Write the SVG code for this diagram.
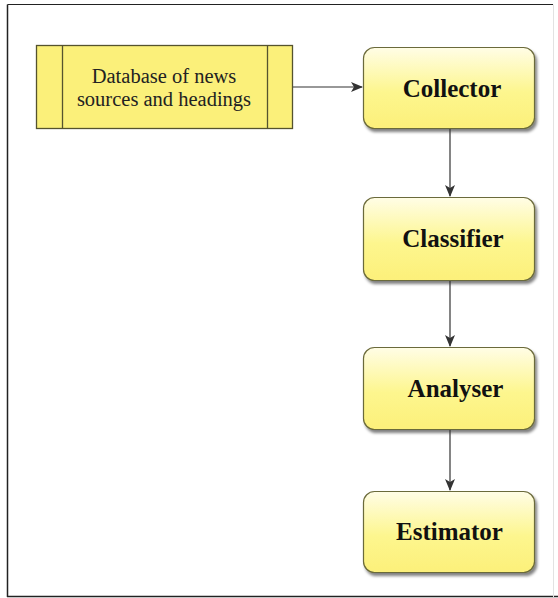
<svg xmlns="http://www.w3.org/2000/svg" width="558" height="598" viewBox="0 0 558 598">
<defs>
<linearGradient id="g" x1="0" y1="0" x2="0" y2="1">
<stop offset="0" stop-color="#fffde6"/>
<stop offset="0.55" stop-color="#fdf68e"/>
<stop offset="1" stop-color="#fcf07a"/>
</linearGradient>
<filter id="sh" x="-10%" y="-10%" width="125%" height="130%">
<feGaussianBlur in="SourceAlpha" stdDeviation="1.5"/>
<feOffset dx="2" dy="3" result="b"/>
<feComponentTransfer><feFuncA type="linear" slope="0.5"/></feComponentTransfer>
<feMerge><feMergeNode/><feMergeNode in="SourceGraphic"/></feMerge>
</filter>
<marker id="ah" markerWidth="12" markerHeight="10" refX="11" refY="5" orient="auto" markerUnits="userSpaceOnUse">
<path d="M0,0 L12,5 L0,10 L3,5 Z" fill="#333"/>
</marker>
</defs>
<style>
.node{fill:url(#g);stroke:#6b6a3a;stroke-width:1.2;filter:url(#sh)}
.lbl{font-family:"Liberation Serif","Times New Roman",serif;font-weight:bold;font-size:25px;fill:#111;text-anchor:middle}
.db{font-family:"Liberation Serif","Times New Roman",serif;font-size:20.5px;fill:#222;text-anchor:middle}
.edge{stroke:#333;stroke-width:1.2;fill:none;marker-end:url(#ah)}
</style>
<rect width="558" height="598" fill="#fff"/>
<g id="frame" fill="none">
<line x1="7.5" y1="4.5" x2="553" y2="4.5" stroke="#222" stroke-width="1.2"/>
<line x1="7.5" y1="4.5" x2="7.5" y2="597" stroke="#222" stroke-width="1.5"/>
<line x1="7" y1="596.5" x2="558" y2="596.5" stroke="#222" stroke-width="1.5"/>
<line x1="553.5" y1="4.5" x2="553.5" y2="597" stroke="#e2e2e2" stroke-width="1"/>
</g>
<g id="database">
<rect x="36.5" y="45.5" width="256" height="83" fill="#fbf07a" stroke="#55532e" stroke-width="1.3"/>
<line x1="62.5" y1="45.5" x2="62.5" y2="128.5" stroke="#55532e" stroke-width="1.3"/>
<line x1="267.5" y1="45.5" x2="267.5" y2="128.5" stroke="#55532e" stroke-width="1.3"/>
<text class="db" x="164" y="83">Database of news</text>
<text class="db" x="164" y="106">sources and headings</text>
</g>
<g id="collector">
<rect class="node" x="363.5" y="47.5" width="171" height="81" rx="11"/>
<text class="lbl" x="452" y="97">Collector</text>
</g>
<g id="classifier">
<rect class="node" x="363.5" y="197.5" width="171" height="83" rx="11"/>
<text class="lbl" x="453" y="247">Classifier</text>
</g>
<g id="analyser">
<rect class="node" x="363.5" y="347.5" width="171" height="82" rx="11"/>
<text class="lbl" x="455.5" y="397">Analyser</text>
</g>
<g id="estimator">
<rect class="node" x="363.5" y="491.5" width="171" height="81" rx="11"/>
<text class="lbl" x="449.5" y="540">Estimator</text>
</g>
<g id="connectors">
<line class="edge" x1="293" y1="87" x2="362" y2="87"/>
<line class="edge" x1="450" y1="129" x2="450" y2="196"/>
<line class="edge" x1="450" y1="281" x2="450" y2="346"/>
<line class="edge" x1="450" y1="430" x2="450" y2="490"/>
</g>
</svg>
